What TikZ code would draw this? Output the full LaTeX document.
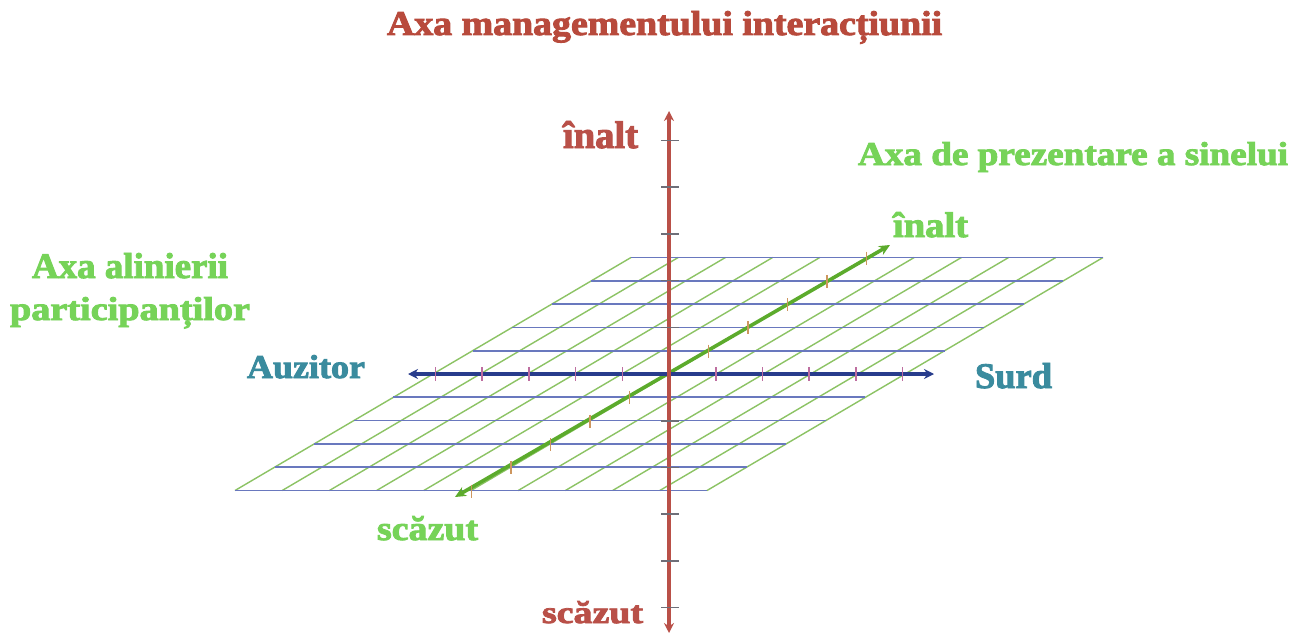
\documentclass[tikz,border=0pt]{standalone}
\usepackage{fontspec}
\usepackage{graphicx}
\setmainfont{Liberation Serif}[BoldFeatures={FakeBold=2.5}]
\usetikzlibrary{arrows.meta}
\definecolor{titleRed}{RGB}{184,74,60}
\definecolor{labGreen}{RGB}{118,211,88}
\definecolor{labTeal}{RGB}{58,139,158}
\definecolor{axRed}{RGB}{185,80,72}
\definecolor{axNavy}{RGB}{40,60,140}
\definecolor{axGreen}{RGB}{92,171,44}
\definecolor{gridBlue}{RGB}{105,120,190}
\definecolor{gridGreen}{RGB}{140,195,100}
\definecolor{tickPink}{RGB}{190,110,160}
\definecolor{tickTan}{RGB}{205,150,95}
\definecolor{tickGray}{RGB}{110,110,120}
\newcommand\fitlbl[3]{\resizebox{#1pt}{#2pt}{\bfseries #3}}
\tikzset{
  lbl/.style={anchor=base west, inner sep=0pt, outer sep=0pt},
  hgrid/.style={draw=gridBlue, line width=1.7pt},
  dgrid/.style={draw=gridGreen, line width=1.4pt},
  vaxis/.style={draw=axRed, line width=3.6pt, {Stealth[length=10pt,width=10pt]}-{Stealth[length=10pt,width=10pt]}},
  haxis/.style={draw=axNavy, line width=3.6pt, {Stealth[length=10pt,width=10pt]}-{Stealth[length=10pt,width=10pt]}},
  gaxis/.style={draw=axGreen, line width=3.6pt, {Stealth[length=11pt,width=10pt]}-{Stealth[length=11pt,width=10pt]}},
  tick/.style={line width=1.6pt},
}
\begin{document}
\begin{tikzpicture}[x=1pt,y=-1pt]
\useasboundingbox[fill=white] (0,0) rectangle (1305,634);
% grid diagonals
\foreach \i in {-5,...,5}{
  \draw[dgrid] ({669+47.2*\i-198},490.5) -- ({669+47.2*\i+198},257.5);
}
% grid horizontals
\foreach \j in {-5,...,5}{
  \draw[hgrid] ({669-236+39.6*\j},{374-23.3*\j}) -- ({669+236+39.6*\j},{374-23.3*\j});
}
% axis endpoints
\coordinate (O) at (669,374);
\coordinate (gLo) at (455,497);
\coordinate (gHi) at (890,245);
\coordinate (hL) at (408,374);
\coordinate (hR) at (934,374);
\coordinate (vT) at (669,111);
\coordinate (vB) at (669,633);
% green axis
\draw[gaxis] (gLo) -- (gHi);
\foreach \j in {-5,...,-1,1,2,...,5}{
  \draw[tick, tickTan] ({669+39.5*\j},{374-23.3*\j-6}) -- ({669+39.5*\j},{374-23.3*\j+7});
}
% horizontal axis
\draw[haxis] (hL) -- (hR);
\foreach \i in {-5,...,-1,1,2,...,5}{
  \draw[tick, tickPink] ({669+46.7*\i},367) -- ({669+46.7*\i},381);
}
% vertical axis
\draw[vaxis] (vB) -- (vT);
\foreach \k in {-5,...,-1,1,2,...,5}{
  \draw[tick, tickGray] (661,{374+46.7*\k}) -- (679,{374+46.7*\k});
}
% labels
\node[lbl, text=titleRed] (title) at (387,35) {\fitlbl{555}{24}{Axa managementului interacțiunii}};
\node[lbl, text=axRed] (vhi) at (563,148) {\fitlbl{75}{27}{înalt}};
\node[lbl, text=axRed] (vlo) at (542,623) {\fitlbl{101}{22}{scăzut}};
\node[lbl, text=labGreen] (gtitle) at (858,165) {\fitlbl{430}{23}{Axa de prezentare a sinelui}};
\node[lbl, text=labGreen] (ghi) at (893,237) {\fitlbl{75}{25}{înalt}};
\node[lbl, text=labGreen] (glo) at (377,540) {\fitlbl{101}{24}{scăzut}};
\node[lbl, text=labGreen] (atitle1) at (32,278) {\fitlbl{196}{25}{Axa alinierii}};
\node[lbl, text=labGreen] (atitle2) at (10,320) {\fitlbl{240}{23}{participanților}};
\node[lbl, text=labTeal] (aud) at (247,378) {\fitlbl{118}{23}{Auzitor}};
\node[lbl, text=labTeal] (surd) at (975,388) {\fitlbl{77}{25}{Surd}};
\end{tikzpicture}
\end{document}
